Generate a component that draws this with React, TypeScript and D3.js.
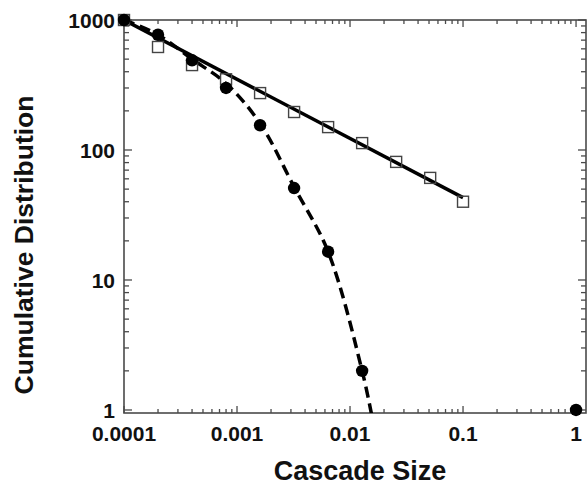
import React from 'react';
import * as d3 from 'd3';

// open squares
const squareX = [0.0001, 0.0002, 0.0004, 0.0008, 0.0016, 0.0032, 0.0064, 0.0128, 0.0256, 0.0512, 0.1];
const squareY = [1000, 620, 450, 350, 274, 196, 150, 113, 81, 61, 40];

// filled circles
const circleX = [0.0001, 0.0002, 0.0004, 0.0008, 0.0016, 0.0032, 0.0064, 0.0128, 1];
const circleY = [1000, 770, 490, 300, 155, 51, 16.5, 2.0, 1.0];

// solid power-law fit
const fitX = [0.0001, 0.1];
const fitY = [1000, 43];

// dashed curve
const dashX = [0.0001, 0.0002, 0.0004, 0.0008, 0.0016, 0.0032, 0.0064, 0.0128, 0.0158];
const dashY = [1000, 770, 500, 325, 160, 52, 16.5, 2.0, 0.85];

const xTickLabels = ['0.0001', '0.001', '0.01', '0.1', '1'];
const yTickLabels = ['1', '10', '100', '1000'];

const W = 588;
const H = 485;
const left = 124, right = 586, top = 20, bottom = 413;
const frameColor = '#4a4a4a';
const font = '"Liberation Sans", Arial, Helvetica, sans-serif';

export default function App() {
  const x = d3.scaleLog().domain([0.0001, 1.225]).range([left, right]);
  const y = d3.scaleLog().domain([0.948, 1000]).range([bottom, top]);

  const xTicks = x.ticks().filter(t => t >= 0.0001 && t <= 1.225);
  const yTicks = y.ticks().filter(t => t >= 1 && t <= 1000);
  const isMajor = (t: number) => Math.abs(Math.log10(t) - Math.round(Math.log10(t))) < 1e-6;

  const line = d3.line<[number, number]>().x(d => x(d[0])).y(d => y(d[1]));
  const curve = d3.line<[number, number]>().x(d => x(d[0])).y(d => y(d[1])).curve(d3.curveCatmullRom);

  const fitPts = fitX.map((v, i) => [v, fitY[i]] as [number, number]);
  const dashPts = dashX.map((v, i) => [v, dashY[i]] as [number, number]);

  return (
    <svg width={W} height={H} style={{ position: 'absolute', left: 0, top: 0, background: '#fff' }}>
      <defs>
        <clipPath id="plot">
          <rect x={left} y={top} width={right - left} height={bottom - top} />
        </clipPath>
      </defs>

      {/* ticks, all four sides, pointing inward */}
      <g stroke={frameColor} strokeWidth={1.3}>
        {xTicks.map((t, i) => {
          const len = isMajor(t) ? 7 : 4;
          return (
            <g key={'xt' + i}>
              <line x1={x(t)} x2={x(t)} y1={bottom} y2={bottom - len} />
              <line x1={x(t)} x2={x(t)} y1={top} y2={top + len} />
            </g>
          );
        })}
        {yTicks.map((t, i) => {
          const len = isMajor(t) ? 8 : 5;
          return (
            <g key={'yt' + i}>
              <line x1={left} x2={left + len} y1={y(t)} y2={y(t)} />
              <line x1={right} x2={right - len} y1={y(t)} y2={y(t)} />
            </g>
          );
        })}
      </g>

      <rect x={left} y={top} width={right - left} height={bottom - top} fill="none" stroke={frameColor} strokeWidth={1.6} />

      {/* tick labels */}
      <g fontFamily={font} fontWeight="bold" fontSize={21} fill="#111">
        {xTickLabels.map(l => (
          <text key={'xl' + l} x={x(+l)} y={441} textAnchor="middle">{l}</text>
        ))}
        {yTickLabels.map(l => (
          <text key={'yl' + l} x={115} y={y(+l)} dy="0.36em" textAnchor="end">{l}</text>
        ))}
      </g>

      {/* axis titles */}
      <text x={360} y={480} textAnchor="middle" fontFamily={font} fontWeight="bold" fontSize={27} fill="#111">
        Cascade Size
      </text>
      <text transform="translate(33,245) rotate(-90)" textAnchor="middle" fontFamily={font} fontWeight="bold" fontSize={26.5} fill="#111">
        Cumulative Distribution
      </text>

      <g clipPath="url(#plot)">
        <path d={curve(dashPts) || ''} fill="none" stroke="#000" strokeWidth={3.5} strokeDasharray="11,6" />
        <path d={line(fitPts) || ''} fill="none" stroke="#000" strokeWidth={3.5} />
      </g>

      {squareX.map((v, i) => (
        <rect key={'s' + i} x={x(v) - 5.5} y={y(squareY[i]) - 5.5} width={11} height={11} fill="none" stroke="#444" strokeWidth={1.4} />
      ))}
      {circleX.map((v, i) => (
        <circle key={'c' + i} cx={x(v)} cy={y(circleY[i])} r={6.2} fill="#000" />
      ))}
    </svg>
  );
}
